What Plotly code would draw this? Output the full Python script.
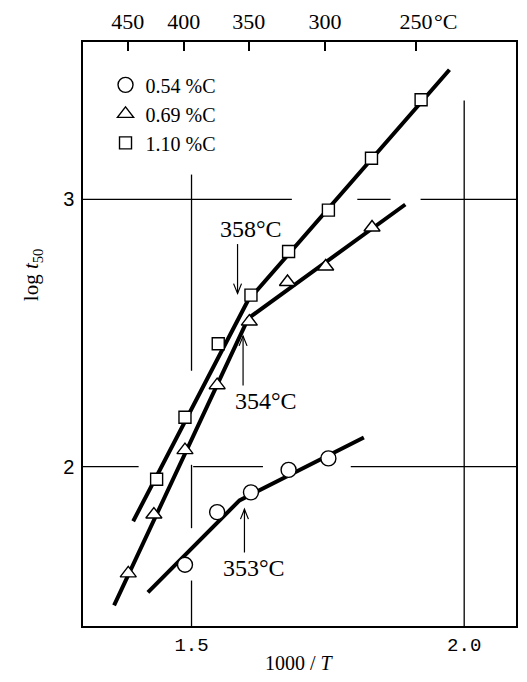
import plotly.graph_objects as go

# ---- data (x = 1000/T, y = log t50) ----
x_054 = [1.488, 1.547, 1.609, 1.678, 1.751]
y_054 = [1.633, 1.830, 1.904, 1.988, 2.031]
x_069 = [1.384, 1.431, 1.488, 1.547, 1.606, 1.676, 1.746, 1.831]
y_069 = [1.601, 1.821, 2.062, 2.305, 2.543, 2.691, 2.749, 2.895]
x_110 = [1.436, 1.488, 1.549, 1.609, 1.678, 1.751, 1.830, 1.921]
y_110 = [1.953, 2.185, 2.460, 2.642, 2.805, 2.960, 3.154, 3.373]

# two-segment fitted lines (start, break, end)
fit_x_054 = [1.420, 1.588, 1.816]
fit_y_054 = [1.530, 1.874, 2.109]
fit_x_069 = [1.358, 1.604, 1.892]
fit_y_069 = [1.481, 2.555, 2.981]
fit_x_110 = [1.393, 1.603, 1.973]
fit_y_110 = [1.796, 2.620, 3.485]

series_names = ["0.54 %C", "0.69 %C", "1.10 %C"]
series_symbols = ["circle", "triangle-up", "square"]

break_temps_c = [353, 354, 358]
break_labels = ["353°C", "354°C", "358°C"]

top_ticks_c = [450, 400, 350, 300, 250]
top_tick_text = ["450", "400", "350", "300", "250"]
x_ticks = [1.5, 2.0]
x_tick_text = ["1.5", "2.0"]
y_ticks = [2, 3]
y_tick_text = ["2", "3"]

X_RANGE = [1.301, 2.095]
Y_RANGE = [1.404, 3.589]
SERIF = "Liberation Serif"

# figure geometry: fits inside the page (body has an 8px margin)
W, H = 511, 666
M = dict(l=75, r=1, t=28, b=48)
PX_X = (W - M["l"] - M["r"]) / (X_RANGE[1] - X_RANGE[0])
PX_Y = (H - M["t"] - M["b"]) / (Y_RANGE[1] - Y_RANGE[0])

fig = go.Figure()

fits = [(fit_x_054, fit_y_054), (fit_x_069, fit_y_069), (fit_x_110, fit_y_110)]
pts = [(x_054, y_054), (x_069, y_069), (x_110, y_110)]

for fx, fy in fits:
    fig.add_trace(go.Scatter(x=fx, y=fy, mode="lines",
                             line=dict(color="black", width=4),
                             showlegend=False, hoverinfo="skip"))

sizes = [15, 14, 12]
for (px, py), name, sym, sz in zip(pts, series_names, series_symbols, sizes):
    fig.add_trace(go.Scatter(x=px, y=py, mode="markers", name=name,
                             marker=dict(symbol=sym, size=sz, color="white",
                                         line=dict(color="black", width=1.4))))

# dummy trace to activate top axis
fig.add_trace(go.Scatter(x=[None], y=[None], xaxis="x2", showlegend=False))

# broken reference grid lines
grid_v = [(1.5, 3.093, 2.359), (1.5, 2.007, 1.770), (1.5, 1.574, Y_RANGE[0]),
          (2.0, 3.370, Y_RANGE[0])]
grid_h = [(3, X_RANGE[0], 1.684), (3, 1.804, 1.865), (3, 1.920, X_RANGE[1]),
          (2, X_RANGE[0], 1.403), (2, 1.503, 1.631), (2, 1.792, X_RANGE[1])]
shapes = []
for xv, y0, y1 in grid_v:
    shapes.append(dict(type="line", xref="x", yref="y", x0=xv, x1=xv, y0=y0, y1=y1,
                       line=dict(color="black", width=1.3)))
for yv, x0, x1 in grid_h:
    shapes.append(dict(type="line", xref="x", yref="y", x0=x0, x1=x1, y0=yv, y1=yv,
                       line=dict(color="black", width=1.3)))

# arrows pointing at the break temperatures (shaft + open V head)
arrow_geom = [(1.841, 1.679), (2.489, 2.304), (2.648, 2.833)]  # (head_y, tail_y)
label_pos = [(1.614, 1.621), (1.637, 2.247), (1.609, 2.889)]
HEAD_HALF_W = 4.0 / PX_X
HEAD_LEN = 10.0 / PX_Y
annotations = []
for tc, lab, (hy, ty), (lx, ly) in zip(break_temps_c, break_labels, arrow_geom, label_pos):
    ax_x = 1000.0 / (tc + 273.15)
    shapes.append(dict(type="line", xref="x", yref="y", x0=ax_x, x1=ax_x, y0=ty, y1=hy,
                       line=dict(color="black", width=1.2)))
    d = HEAD_LEN if ty < hy else -HEAD_LEN
    path = (f"M {ax_x - HEAD_HALF_W},{hy - d} L {ax_x},{hy} "
            f"L {ax_x + HEAD_HALF_W},{hy - d}")
    shapes.append(dict(type="path", xref="x", yref="y", path=path,
                       line=dict(color="black", width=1.2)))
    annotations.append(dict(x=lx, y=ly, xref="x", yref="y", text=lab, showarrow=False,
                            font=dict(family=SERIF, size=24, color="black"),
                            xanchor="center", yanchor="middle"))

# °C after the 250 top tick
annotations.append(dict(x=1000.0 / (top_ticks_c[-1] + 273.15) + 0.029, y=1.035,
                        xref="x", yref="paper", text="°C", showarrow=False,
                        xanchor="left", yanchor="middle",
                        font=dict(family=SERIF, size=22, color="black")))
# axis titles
annotations.append(dict(x=-0.116, y=0.602, xref="paper", yref="paper",
                        text="log <i>t</i><sub>50</sub>", textangle=-90, showarrow=False,
                        xanchor="center", yanchor="middle",
                        font=dict(family=SERIF, size=21, color="black")))
annotations.append(dict(x=0.5, y=-0.064, xref="paper", yref="paper",
                        text="1000 / <i>T</i>", showarrow=False,
                        xanchor="center", yanchor="middle",
                        font=dict(family=SERIF, size=20, color="black")))

fig.update_layout(
    width=W, height=H,
    margin=M,
    paper_bgcolor="white", plot_bgcolor="white",
    shapes=shapes, annotations=annotations,
    xaxis=dict(range=X_RANGE, tickvals=x_ticks, ticktext=x_tick_text,
               showgrid=False, zeroline=False, ticks="",
               showline=True, mirror=True, linecolor="black", linewidth=1.5,
               ticklabelstandoff=0,
               tickfont=dict(family="Liberation Mono", size=19, color="black")),
    xaxis2=dict(range=X_RANGE, overlaying="x", side="top",
                tickvals=[1000.0 / (c + 273.15) for c in top_ticks_c],
                ticktext=top_tick_text, ticks="inside", ticklen=9, tickwidth=1.5,
                tickcolor="black", showgrid=False, zeroline=False, showline=False,
                ticklabelstandoff=8,
                tickfont=dict(family=SERIF, size=22, color="black")),
    yaxis=dict(range=Y_RANGE, tickvals=y_ticks, ticktext=y_tick_text,
               showgrid=False, zeroline=False, ticks="",
               showline=True, mirror=True, linecolor="black", linewidth=1.5,
               ticklabelstandoff=3,
               tickfont=dict(family="Liberation Sans", size=20, color="black")),
    legend=dict(x=0.052, y=0.960, xanchor="left", yanchor="top",
                bgcolor="rgba(0,0,0,0)", borderwidth=0,
                font=dict(family=SERIF, size=20, color="black")),
    showlegend=True,
)

fig.write_html("out.html")
